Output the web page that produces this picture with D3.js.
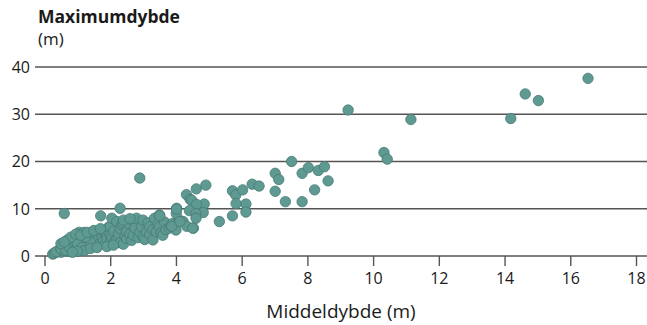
<!DOCTYPE html>
<html>
<head>
<meta charset="utf-8">
<script src="https://cdn.jsdelivr.net/npm/d3@7"></script>
<style>
  body { margin: 0; background: #fff; }
  svg text { font-family: "Open Sans", "Noto Sans", sans-serif; fill: #1a1a1a; }
</style>
</head>
<body>
<svg id="chart" width="647" height="325"></svg>
<script>
// middeldybde (x) and maximumdybde (y)
const middeldybde = [
  0.25, 0.3, 0.4, 0.45, 0.5, 0.55, 0.6, 0.6, 0.65, 0.7, 0.7, 0.75, 0.8, 0.8, 0.85, 0.9, 0.9, 0.95,
  1.0, 1.0, 1.05, 1.05, 1.1, 1.1, 1.15, 1.2, 1.2, 1.25, 1.3, 1.3, 1.35, 1.4, 1.45, 1.5, 1.5, 1.55,
  1.6, 1.6, 1.65, 1.7, 1.75, 1.8, 1.8, 1.85, 1.9, 1.9, 1.95, 2.0, 2.0, 2.0, 2.05, 2.05, 2.1, 2.15,
  2.2, 2.2, 2.25, 2.3, 2.3, 2.35, 2.4, 2.4, 2.45, 2.5, 2.5, 2.55, 2.6, 2.65, 2.7, 2.7, 2.75, 2.8,
  2.85, 2.9, 2.95, 3.0, 3.0, 3.05, 3.1, 3.15, 3.2, 3.2, 3.3, 3.3, 3.35, 3.4, 3.45, 3.5, 3.5, 3.55,
  3.6, 3.65, 3.7, 3.8, 3.85, 3.9, 4.0, 4.02, 4.1, 0.35, 0.5, 0.65, 0.75, 0.9, 1.0, 1.15, 1.4, 1.25,
  0.7, 0.8, 0.95, 1.1, 1.3, 0.5, 0.6, 1.2, 1.4, 1.6, 1.9, 2.1, 1.5, 1.7, 2.4, 2.6, 1.0, 0.85,
  0.6, 1.71, 2.3, 2.9, 3.51,
  4.01, 4.02, 4.22, 4.33, 4.53, 3.87, 4.32, 4.43, 4.48, 4.62, 4.91, 4.86, 4.63, 4.41, 4.83, 4.61,
  4.61, 4.12, 4.51, 5.32, 5.72, 5.72, 5.82, 5.83, 6.03, 6.13, 6.13, 6.32, 6.53,
  7.02, 7.13, 7.52, 7.84, 8.03, 8.33, 8.52, 8.63, 8.22, 7.02, 7.33, 7.84,
  9.24, 10.33, 10.43, 11.15, 14.19, 14.63, 15.03, 16.54
];
const maximumdybde = [
  0.4, 0.6, 0.9, 1.3, 0.8, 1.1, 1.8, 2.0, 1.4, 1.0, 2.4, 1.7, 3.0, 1.3, 2.2, 1.6, 3.4, 2.7,
  1.9, 3.9, 5.0, 2.4, 1.5, 3.1, 2.0, 5.0, 2.8, 3.6, 1.9, 4.3, 2.5, 3.2, 2.1, 3.8, 2.6, 4.6,
  3.0, 2.2, 3.5, 2.7, 4.0, 3.2, 5.2, 2.4, 4.5, 3.6, 6.1, 2.9, 4.4, 6.2, 3.9, 8.0, 5.3, 3.2,
  7.3, 3.4, 4.7, 5.8, 2.8, 6.6, 2.5, 6.9, 4.1, 3.7, 5.2, 6.9, 4.6, 3.3, 4.4, 7.4, 5.9, 8.0,
  3.9, 5.0, 6.2, 7.6, 4.1, 3.5, 5.1, 7.0, 6.2, 4.6, 3.4, 5.6, 8.0, 5.1, 6.7, 6.2, 8.7, 4.9,
  4.4, 7.2, 5.6, 5.9, 6.3, 6.9, 5.5, 10.1, 7.6, 0.9, 1.5, 1.2, 2.0, 1.2, 2.6, 1.8, 2.9, 4.0,
  3.4, 4.0, 4.6, 4.4, 5.0, 2.6, 3.0, 1.1, 1.6, 1.8, 2.0, 2.3, 5.4, 5.8, 7.6, 7.9, 1.0, 0.8,
  9.0, 8.5, 10.1, 16.5, 8.5,
  9.0, 9.9, 7.3, 6.3, 5.9, 6.3, 13.0, 12.0, 11.8, 14.2, 15.0, 11.0, 10.9, 9.6, 9.2, 9.0,
  8.0, 7.3, 5.9, 7.3, 8.5, 13.8, 12.9, 11.1, 14.0, 11.0, 9.3, 15.2, 14.8,
  17.5, 16.2, 20.0, 17.5, 18.7, 18.1, 18.9, 15.9, 14.0, 13.7, 11.5, 11.5,
  30.9, 21.9, 20.5, 28.9, 29.1, 34.3, 32.9, 37.6
];
const xTicks = [0, 2, 4, 6, 8, 10, 12, 14, 16, 18];
const yTicks = [0, 10, 20, 30, 40];

const points = middeldybde.map((v, i) => ({ x: v, y: maximumdybde[i] }));

const svg = d3.select("#chart");
const gridLeft = 35, gridRight = 647;

const x = d3.scaleLinear().domain([0, 18]).range([44.5, 636]);
const y = d3.scaleLinear().domain([0, 40]).range([256, 67]);

// horizontal grid lines (0 doubles as the x axis)
svg.append("g")
  .selectAll("line")
  .data(yTicks)
  .join("line")
  .attr("x1", gridLeft)
  .attr("x2", gridRight)
  .attr("y1", d => y(d))
  .attr("y2", d => y(d))
  .attr("stroke", "#555")
  .attr("stroke-width", 1.4);

// y tick labels
svg.append("g")
  .selectAll("text")
  .data(yTicks)
  .join("text")
  .attr("x", 30)
  .attr("y", d => y(d))
  .attr("dy", "0.36em")
  .attr("text-anchor", "end")
  .style("font-size", "16px")
  .text(d => d);

// x axis ticks + labels
const xAxis = svg.append("g")
  .attr("transform", `translate(0,${y(0)})`)
  .call(d3.axisBottom(x).tickValues(xTicks).tickSize(10).tickPadding(7).tickFormat(d3.format("d")));
xAxis.select(".domain").remove();
xAxis.selectAll(".tick line").attr("stroke", "#555").attr("stroke-width", 1.4);
xAxis.selectAll(".tick text")
  .style("font-size", "16px")
  .style("font-family", "\"Open Sans\", \"Noto Sans\", sans-serif")
  .attr("fill", "#1a1a1a");

// points
svg.append("g")
  .selectAll("circle")
  .data(points)
  .join("circle")
  .attr("cx", d => x(d.x))
  .attr("cy", d => y(d.y))
  .attr("r", 5.2)
  .attr("fill", "#5f9a92")
  .attr("stroke", "#467a73")
  .attr("stroke-width", 0.8);

// titles
svg.append("text")
  .attr("x", 38).attr("y", 23)
  .style("font-size", "17.5px").style("font-weight", "bold")
  .text("Maximumdybde");
svg.append("text")
  .attr("x", 38).attr("y", 45)
  .style("font-size", "17px")
  .text("(m)");
svg.append("text")
  .attr("x", 341).attr("y", 318)
  .attr("text-anchor", "middle")
  .style("font-size", "19px")
  .text("Middeldybde (m)");
</script>
</body>
</html>
